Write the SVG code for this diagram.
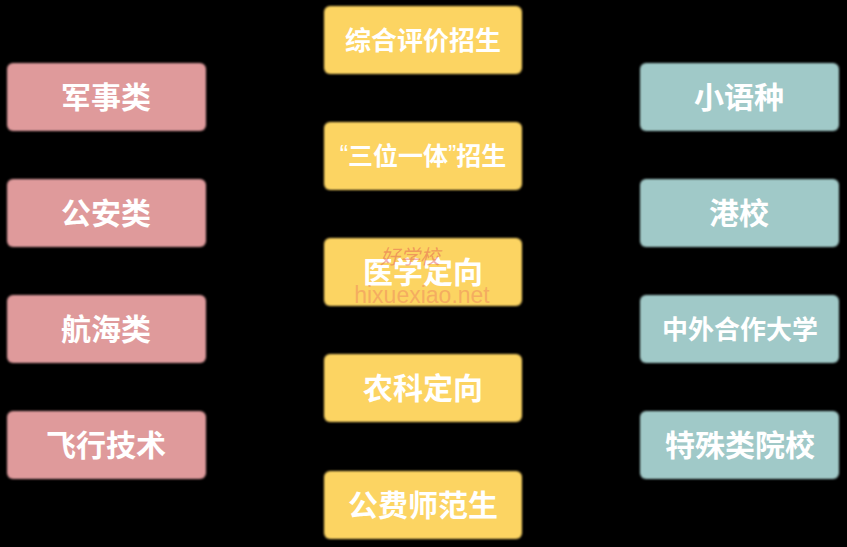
<svg xmlns="http://www.w3.org/2000/svg" width="847" height="547" viewBox="0 0 847 547">
<defs>
<filter id="soft" x="-5%" y="-10%" width="110%" height="120%"><feGaussianBlur stdDeviation="1.2"/></filter>
<style>
.bg{fill:#000}
.box{filter:url(#soft)}
.pink{fill:#DF9A9B}
.yellow{fill:#FCD462}
.teal{fill:#A0C9C8}
.t{font-family:"Noto Sans CJK SC","Noto Sans",sans-serif;font-weight:bold;fill:#fff;text-anchor:middle;dominant-baseline:central;font-size:30px}
.q{font-family:"Liberation Sans",Arial,sans-serif;font-weight:normal}
.wm{font-family:"Liberation Sans",Arial,sans-serif;font-size:23px;fill:#F2A060;fill-opacity:0.75;text-anchor:middle}
.wm2{font-family:"Noto Sans CJK SC",sans-serif;font-size:20px;font-style:italic;fill:#E05050;fill-opacity:0.45;text-anchor:middle}
</style>
</defs>
<rect class="bg" x="0" y="0" width="847" height="547"/>
<g id="connectors"></g>
<g id="n-junshi"><rect class="box pink" x="7" y="63" width="199" height="68" rx="6"/><text class="t" x="106" y="95">军事类</text></g>
<g id="n-gongan"><rect class="box pink" x="7" y="179" width="199" height="68" rx="6"/><text class="t" x="106" y="211">公安类</text></g>
<g id="n-hanghai"><rect class="box pink" x="7" y="295" width="199" height="68" rx="6"/><text class="t" x="106" y="327">航海类</text></g>
<g id="n-feixing"><rect class="box pink" x="7" y="411" width="199" height="68" rx="6"/><text class="t" x="106" y="443">飞行技术</text></g>
<g id="n-zonghe"><rect class="box yellow" x="324" y="6" width="198" height="68" rx="6"/><text class="t" x="423" y="38" style="font-size:26px">综合评价招生</text></g>
<g id="n-sanwei"><rect class="box yellow" x="324" y="122" width="198" height="68" rx="6"/><text class="t" x="423" y="154" style="font-size:25px"><tspan class="q">“</tspan>三位一体<tspan class="q">”</tspan>招生</text></g>
<g id="n-yixue"><rect class="box yellow" x="324" y="238" width="198" height="68" rx="6"/><text class="t" x="423" y="270">医学定向</text></g>
<g id="n-nongke"><rect class="box yellow" x="324" y="354" width="198" height="68" rx="6"/><text class="t" x="423" y="386">农科定向</text></g>
<g id="n-gongfei"><rect class="box yellow" x="324" y="471" width="198" height="68" rx="6"/><text class="t" x="423" y="503">公费师范生</text></g>
<g id="n-xiaoyu"><rect class="box teal" x="640" y="63" width="199" height="68" rx="6"/><text class="t" x="739" y="95">小语种</text></g>
<g id="n-gangxiao"><rect class="box teal" x="640" y="179" width="199" height="68" rx="6"/><text class="t" x="739" y="211">港校</text></g>
<g id="n-zhongwai"><rect class="box teal" x="640" y="295" width="199" height="68" rx="6"/><text class="t" x="740" y="327" style="font-size:26px">中外合作大学</text></g>
<g id="n-teshu"><rect class="box teal" x="640" y="411" width="199" height="68" rx="6"/><text class="t" x="740" y="443">特殊类院校</text></g>
<g id="watermark">
<text class="wm2" x="410" y="264">好学校</text>
<text class="wm" x="422" y="303">hixuexiao.net</text>
</g>
</svg>
